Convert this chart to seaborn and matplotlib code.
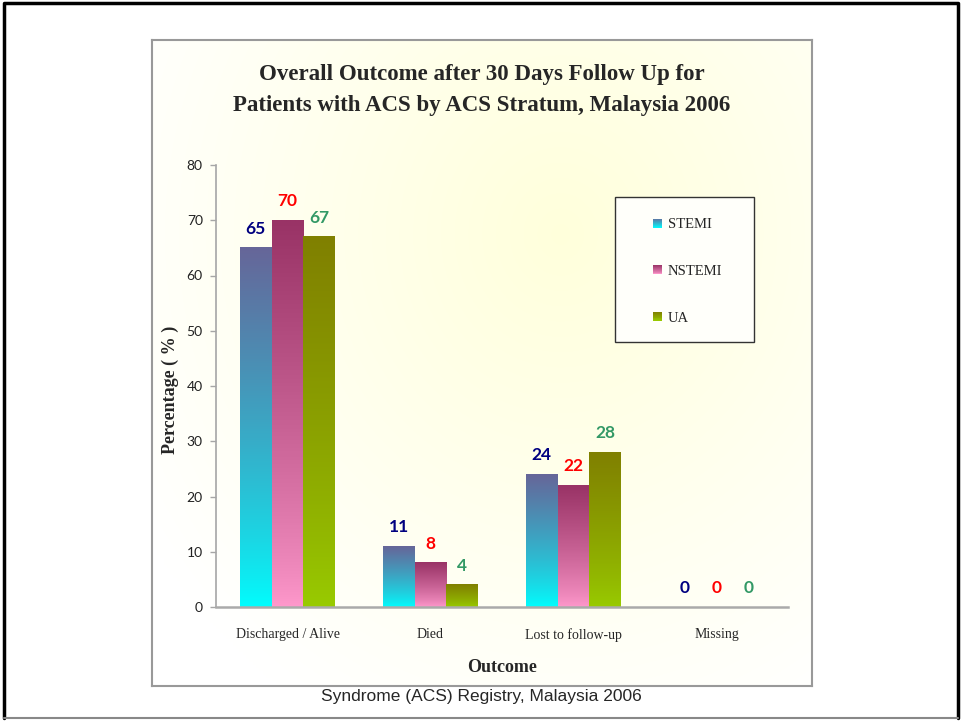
import numpy as np
import pandas as pd
import matplotlib.pyplot as plt
from matplotlib.colors import LinearSegmentedColormap, to_rgb
from matplotlib.legend_handler import HandlerBase
from matplotlib.patches import Rectangle, Patch
from matplotlib.lines import Line2D
import seaborn as sns

outcomes = ["Discharged / Alive", "Died", "Lost to follow-up", "Missing"]
strata = ["STEMI", "NSTEMI", "UA"]
stemi = [65, 11, 24, 0]
nstemi = [70, 8, 22, 0]
ua = [67, 4, 28, 0]

top_colors = ["#666699", "#993366", "#808000"]
bottom_colors = ["#00FFFF", "#FF99CC", "#99CC00"]
label_colors = ["#000080", "#FF0000", "#339966"]

W, H = 961, 721


class GradientSquare(HandlerBase):
    # small square with the same vertical gradient as the bars
    def __init__(self, top, bottom):
        super().__init__()
        self.top = np.array(to_rgb(top))
        self.bottom = np.array(to_rgb(bottom))

    def create_artists(self, legend, orig_handle, xdescent, ydescent,
                       width, height, fontsize, trans):
        s = 6.5
        x0 = width - xdescent - s
        y0 = -ydescent + (height - s) / 2
        n = 10
        arts = []
        for i in range(n):
            t = (i + 0.5) / n
            c = self.bottom * (1 - t) + self.top * t
            arts.append(Rectangle((x0, y0 + i * s / n), s, s / n + 0.05,
                                  facecolor=c, edgecolor='none', transform=trans))
        return arts


df = pd.DataFrame({
    "Outcome": outcomes * 3,
    "Stratum": np.repeat(strata, len(outcomes)),
    "Percentage": stemi + nstemi + ua,
})

sns.set_style("white")
plt.rcParams['font.family'] = ['Liberation Serif', 'DejaVu Serif']

fig = plt.figure(figsize=(W / 100, H / 100), dpi=100)
fig.patch.set_facecolor('white')

# chart area with soft cream gradient
bg = fig.add_axes([152 / W, 1 - 686 / H, (812 - 152) / W, (686 - 40) / H], zorder=-5)
yy, xx = np.mgrid[0:1:200j, 0:1:200j]
r = np.clip(np.sqrt(((xx - 0.62) / 0.75) ** 2 + ((yy - 0.3) / 0.85) ** 2), 0, 1)
img = np.ones((200, 200, 3))
img[..., 2] = 0.86 + 0.14 * r
bg.imshow(img, extent=[0, 1, 0, 1], aspect='auto', interpolation='bilinear')
bg.set_xticks([])
bg.set_yticks([])
for sp in bg.spines.values():
    sp.set_color('#999999')
    sp.set_linewidth(1.5)

ax = fig.add_axes([216 / W, 1 - 607 / H, 572 / W, 442 / H])
sns.barplot(data=df, x="Outcome", y="Percentage", hue="Stratum", order=outcomes,
            hue_order=strata, palette=top_colors, width=0.67, saturation=1,
            errorbar=None, legend=False, ax=ax)
ax.set_facecolor('none')

grad = np.linspace(0, 1, 256)[:, None] ** 0.8
for i, cont in enumerate(ax.containers):
    cmap = LinearSegmentedColormap.from_list(strata[i], [bottom_colors[i], top_colors[i]])
    for bar in cont:
        x, w, h = bar.get_x(), bar.get_width(), bar.get_height()
        bar.set_facecolor('none')
        bar.set_edgecolor('none')
        if h > 0:
            ax.imshow(grad, extent=[x, x + w, 0, h], origin='lower', aspect='auto',
                      cmap=cmap, interpolation='bilinear', zorder=2)
    ax.bar_label(cont, labels=[f"{v:g}" for v in cont.datavalues], padding=8,
                 color=label_colors[i], fontsize=12.5, fontweight='bold', family='Lato')

ax.set_xlim(-0.5, 3.5)
ax.set_ylim(0, 80)
ax.set_yticks(range(0, 81, 10), [str(v) for v in range(0, 81, 10)],
              fontsize=10, family='Lato', color='#222222')
ax.set_xticks(range(len(outcomes)), outcomes, fontsize=10)
ax.tick_params(axis='x', length=0, pad=15)
ax.tick_params(axis='y', length=4.5, width=1, color='#A6A6A6', pad=5, left=True)

for side in ['top', 'right']:
    ax.spines[side].set_visible(False)
ax.spines['left'].set_color('#A6A6A6')
ax.spines['left'].set_linewidth(1.2)
ax.spines['bottom'].set_color('#AAAAAA')
ax.spines['bottom'].set_linewidth(1.8)

ax.set_xlabel("Outcome", fontsize=13, fontweight='bold', va='center')
ax.xaxis.set_label_coords(0.5, (607 - 667) / 442)
ax.set_ylabel("Percentage ( % )", fontsize=13, fontweight='bold', va='center')
ax.yaxis.set_label_coords((170 - 216) / 572, (607 - 390) / 442)

# legend box
ax.add_patch(Rectangle((615 / W, 1 - 342 / H), 139 / W, 145 / H, transform=fig.transFigure,
                       facecolor='#FFFFFA', edgecolor='#333333', linewidth=1, zorder=4))
handles = [Patch(label=s) for s in strata]
hmap = {h: GradientSquare(t, b) for h, t, b in zip(handles, top_colors, bottom_colors)}
ax.legend(handles, strata, handler_map=hmap, frameon=False, loc='upper left',
          bbox_to_anchor=(653 / W, 1 - 218 / H), bbox_transform=fig.transFigure,
          borderpad=0, borderaxespad=0, handlelength=0.65, handletextpad=0.36,
          labelspacing=2.3, prop={'family': 'Liberation Serif', 'size': 10.5})

fig.text(482 / W, 1 - 90 / H,
         "Overall Outcome after 30 Days Follow Up for\nPatients with ACS by ACS Stratum, Malaysia 2006",
         ha='center', va='center', fontsize=16.5, fontweight='bold', linespacing=1.65)

fig.text(481 / W, 1 - 697 / H, "Syndrome (ACS) Registry, Malaysia 2006",
         ha='center', va='center', fontsize=12.5, family='Liberation Sans')

# outer slide frame
fig.add_artist(Line2D([4 / W, 4 / W, 958 / W, 958 / W], [1 - 718 / H, 1 - 3 / H, 1 - 3 / H, 1 - 718 / H],
                      color='black', linewidth=2.5, transform=fig.transFigure))
fig.add_artist(Line2D([4 / W, 958 / W], [1 - 718 / H, 1 - 718 / H],
                      color='#888888', linewidth=1.5, transform=fig.transFigure))

fig.savefig("out.png", dpi=100)
